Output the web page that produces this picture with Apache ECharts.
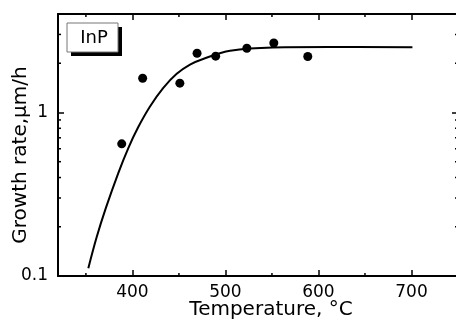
<!DOCTYPE html>
<html>
<head>
<meta charset="utf-8">
<script src="https://cdn.jsdelivr.net/npm/echarts@6/dist/echarts.min.js"></script>
<style>
  html, body { margin: 0; padding: 0; background: #fff; }
  #chart { width: 456px; height: 322px; }
</style>
</head>
<body>
<div id="chart"></div>
<script>
// measured points
const temperature = [388.5, 411, 451, 469.5, 489.5, 523, 552, 588.5];
const growthRate = [0.643, 1.62, 1.51, 2.30, 2.21, 2.47, 2.66, 2.20];

// fitted curve
const fitTemperature = [352.6, 361.6, 371.3, 384.8, 395.6, 406.3, 418.9, 433.2, 447.6, 461.9, 478, 505, 551, 612, 701];
const fitGrowthRate = [0.1115, 0.173, 0.259, 0.426, 0.606, 0.814, 1.087, 1.412, 1.722, 1.963, 2.145, 2.385, 2.50, 2.515, 2.505];

// minor tick positions
const xMinorTicks = [350, 450, 550, 650];
const yMinorTicks = [0.2, 0.3, 0.4, 0.5, 0.6, 0.7, 0.8, 0.9, 2, 3];

const font = 'DejaVu Sans';
const chart = echarts.init(document.getElementById('chart'));

const majorX = {
  type: 'value',
  min: 320,
  max: 750,
  minInterval: 100,
  maxInterval: 100,
  axisLine: { lineStyle: { color: '#000', width: 2 } },
  axisTick: { inside: true, length: 6, lineStyle: { color: '#000', width: 1.5 } },
  splitLine: { show: false }
};

const majorY = {
  type: 'log',
  logBase: 10,
  min: 0.1,
  max: 4,
  axisLine: { show: true, lineStyle: { color: '#000', width: 2 } },
  axisTick: { show: true, inside: true, length: 6, lineStyle: { color: '#000', width: 1.5 } },
  splitLine: { show: false }
};

const option = {
  animation: false,
  backgroundColor: '#fff',
  grid: { left: 58, right: -2, top: 14, bottom: 46, containLabel: false, outerBoundsMode: 'none' },
  xAxis: [
    Object.assign({}, majorX, {
      position: 'bottom',
      name: 'Temperature, °C',
      nameLocation: 'middle',
      nameGap: 24,
      nameMoveOverlap: false,
      nameTextStyle: { fontFamily: font, fontSize: 20, color: '#000', padding: [0, 0, 0, 26] },
      axisLabel: {
        margin: 8, color: '#000', fontFamily: font, fontSize: 17,
        showMinLabel: false, showMaxLabel: false
      }
    }),
    Object.assign({}, majorX, { position: 'top', axisLabel: { show: false } })
  ],
  yAxis: [
    Object.assign({}, majorY, {
      position: 'left',
      name: 'Growth rate,μm/h',
      nameLocation: 'middle',
      nameGap: 27,
      nameMoveOverlap: false,
      nameTextStyle: { fontFamily: font, fontSize: 20, color: '#000', padding: [0, 20, 0, 0] },
      axisLabel: {
        margin: 10, color: '#000', fontFamily: font, fontSize: 17,
        showMaxLabel: false
      }
    }),
    Object.assign({}, majorY, { position: 'right', axisLabel: { show: false } })
  ],
  graphic: [
    { type: 'rect', shape: { x: 71, y: 27, width: 51, height: 29 }, style: { fill: '#000' }, z: 100 },
    { type: 'rect', shape: { x: 67, y: 23, width: 51, height: 29 }, style: { fill: '#fff', stroke: '#777', lineWidth: 1 }, z: 101 },
    {
      type: 'text', x: 94, y: 38, z: 102,
      style: { text: 'InP', font: '18px "DejaVu Sans"', fill: '#000', align: 'center', verticalAlign: 'middle' }
    }
  ],
  series: [
    {
      type: 'line',
      data: fitTemperature.map((t, i) => [t, fitGrowthRate[i]]),
      showSymbol: false,
      smooth: 0.4,
      lineStyle: { color: '#000', width: 2 },
      z: 2
    },
    {
      type: 'scatter',
      data: temperature.map((t, i) => [t, growthRate[i]]),
      symbol: 'circle',
      symbolSize: 9,
      itemStyle: { color: '#000', opacity: 1 },
      z: 3
    },
    {
      // minor ticks on top and bottom
      type: 'custom',
      data: xMinorTicks.map((v) => [v, 1]),
      silent: true,
      renderItem: (params, api) => {
        const cs = params.coordSys;
        const x = api.coord([api.value(0), 1])[0];
        const style = { stroke: '#000', lineWidth: 1.5 };
        return {
          type: 'group',
          children: [
            { type: 'line', shape: { x1: x, y1: cs.y + cs.height, x2: x, y2: cs.y + cs.height - 3 }, style },
            { type: 'line', shape: { x1: x, y1: cs.y, x2: x, y2: cs.y + 3 }, style }
          ]
        };
      }
    },
    {
      // minor ticks on left and right
      type: 'custom',
      data: yMinorTicks.map((v) => [400, v]),
      silent: true,
      renderItem: (params, api) => {
        const cs = params.coordSys;
        const y = api.coord([400, api.value(1)])[1];
        const style = { stroke: '#000', lineWidth: 1.5 };
        return {
          type: 'group',
          children: [
            { type: 'line', shape: { x1: cs.x, y1: y, x2: cs.x + 3, y2: y }, style },
            { type: 'line', shape: { x1: cs.x + cs.width, y1: y, x2: cs.x + cs.width - 3, y2: y }, style }
          ]
        };
      }
    }
  ]
};

chart.setOption(option);
</script>
</body>
</html>
